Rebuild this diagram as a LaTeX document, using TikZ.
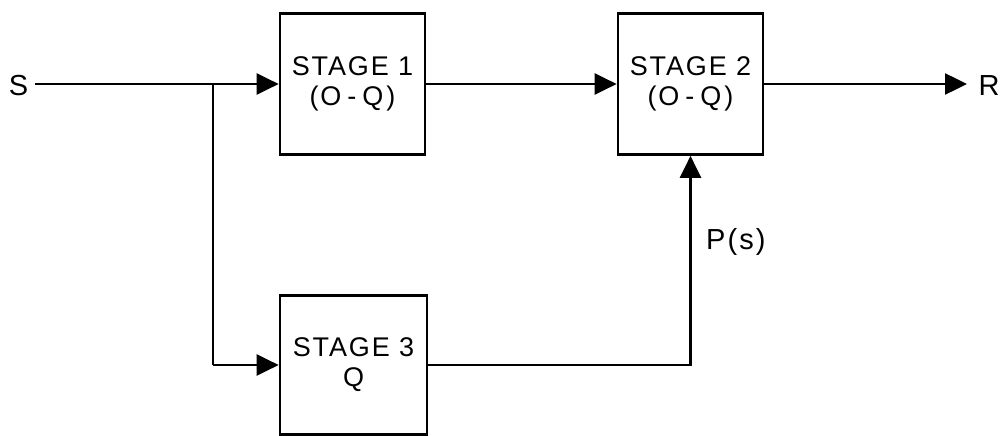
\documentclass[tikz,border=0pt]{standalone}
\usepackage{fontspec}
\setmainfont{Liberation Sans}[LetterSpace=7]
\usetikzlibrary{arrows.meta}
\newcommand{\oq}{(O\hspace{6pt}-\hspace{6pt}Q\hspace{3pt})}
\begin{document}
\begin{tikzpicture}[x=1pt,y=-1pt,
  stagebox/.style={draw,line width=2.7pt,minimum width=145pt,minimum height=141pt,inner sep=0pt,align=center,font=\fontsize{27}{30}\selectfont},
  lbl/.style={inner sep=0pt,font=\fontsize{29}{30}\selectfont},
  conn/.style={line width=2.5pt},
  arr/.style={conn,-{Triangle[length=22pt,width=21pt]}}]
\useasboundingbox (0,0) rectangle (1002,436);
\node[stagebox] (s1) at (352.5,84) {STAGE 1\\\oq};
\node[stagebox] (s2) at (690.5,84) {STAGE 2\\\oq};
\node[stagebox,minimum width=147pt,minimum height=139pt] (s3) at (353.5,365) {STAGE 3\\Q};
\node[lbl] (S) at (18.5,86) {S};
\node[lbl] (R) at (989,86) {R};
\node[lbl,anchor=west] (P) at (706,242) {P(s)};
\coordinate (Sout) at (35,84);
\coordinate (br) at (213,84);
\coordinate (bl) at (213,365);
\coordinate (Rin) at (967,84);
\draw[arr] (Sout) -- (s1.west);
\draw[conn] (br) -- (bl);
\draw[arr] (bl) -- (s3.west);
\draw[arr] (s1.east) -- (s2.west);
\draw[arr] (s2.east) -- (Rin);
\draw[arr] (s3.east) -| (s2.south);
\end{tikzpicture}
\end{document}
